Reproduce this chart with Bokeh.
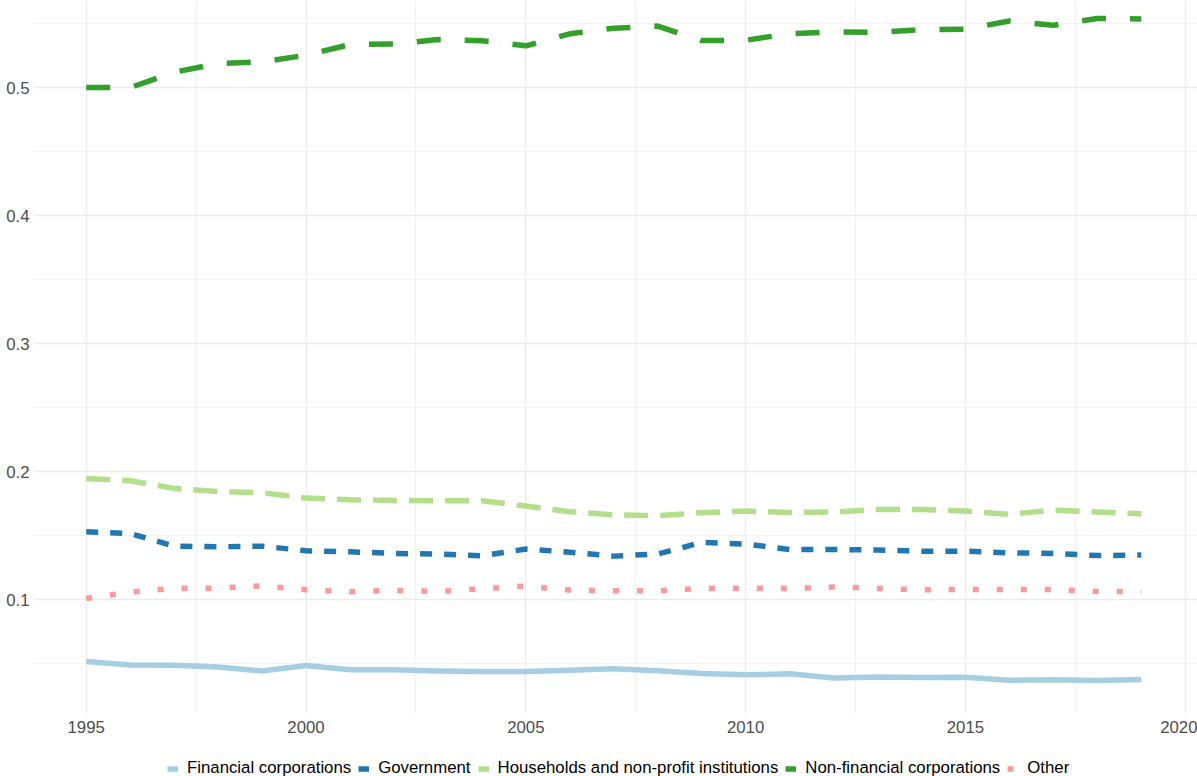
from bokeh.plotting import figure
from bokeh.models import Range1d, FixedTicker, Legend, LegendItem
from bokeh.layouts import column
from bokeh.embed import file_html
from bokeh.resources import INLINE

years = list(range(1995, 2020))

financial = [0.0518, 0.0491, 0.0489, 0.0475, 0.0444, 0.0487, 0.0454, 0.0453, 0.0443, 0.0440,
             0.0440, 0.0450, 0.0462, 0.0445, 0.0425, 0.0414, 0.0422, 0.0389, 0.0398, 0.0393,
             0.0395, 0.0372, 0.0375, 0.0370, 0.0378]
government = [0.1531, 0.1518, 0.1419, 0.1414, 0.1419, 0.1383, 0.1375, 0.1362, 0.1357, 0.1344,
              0.1396, 0.1372, 0.1341, 0.1357, 0.1448, 0.1435, 0.1393, 0.1393, 0.1388, 0.1380,
              0.1380, 0.1367, 0.1362, 0.1345, 0.1350]
households = [0.1948, 0.1930, 0.1870, 0.1846, 0.1836, 0.1794, 0.1781, 0.1776, 0.1773, 0.1773,
              0.1732, 0.1688, 0.1664, 0.1656, 0.1680, 0.1693, 0.1682, 0.1685, 0.1706, 0.1705,
              0.1693, 0.1667, 0.1700, 0.1685, 0.1672]
nonfinancial = [0.5000, 0.5000, 0.5120, 0.5188, 0.5200, 0.5253, 0.5336, 0.5340, 0.5375, 0.5365,
                0.5326, 0.5420, 0.5464, 0.5480, 0.5367, 0.5370, 0.5420, 0.5435, 0.5430, 0.5453,
                0.5456, 0.5520, 0.5487, 0.5540, 0.5536]
other = [0.1010, 0.1060, 0.1089, 0.1091, 0.1109, 0.1078, 0.1063, 0.1073, 0.1065, 0.1086,
         0.1107, 0.1076, 0.1070, 0.1070, 0.1089, 0.1091, 0.1089, 0.1100, 0.1089, 0.1078,
         0.1081, 0.1081, 0.1081, 0.1065, 0.1063]

series_names = ["Financial corporations", "Government", "Households and non-profit institutions",
                "Non-financial corporations", "Other"]
series_values = [financial, government, households, nonfinancial, other]
series_colors = ["#a6cee3", "#1f78b4", "#b2df8a", "#33a02c", "#fb9a99"]
series_dashes = ["solid", "12 12", "24 12", "24 24", "6 18"]

x_ticks = [1995, 2000, 2005, 2010, 2015, 2020]
x_minor = [1997.5, 2002.5, 2007.5, 2012.5, 2017.5]
y_ticks = [0.1, 0.2, 0.3, 0.4, 0.5]
y_minor = [0.05, 0.15, 0.25, 0.35, 0.45, 0.55]

FONT = "Liberation Sans"
LINE_W = 5.5

p = figure(width=1197, height=745, output_backend="svg", toolbar_location=None,
           x_range=Range1d(1993.801, 2020.279), y_range=Range1d(0.0112, 0.568),
           min_border_left=33, min_border_right=0, min_border_top=0, min_border_bottom=32)
p.outline_line_color = None
p.background_fill_color = "white"
p.border_fill_color = "white"

p.xaxis.ticker = FixedTicker(ticks=x_ticks, minor_ticks=x_minor)
p.yaxis.ticker = FixedTicker(ticks=y_ticks, minor_ticks=y_minor)
p.xaxis.major_label_overrides = {t: str(t) for t in x_ticks}

for ax in (p.xaxis, p.yaxis):
    ax.axis_line_color = None
    ax.major_tick_line_color = None
    ax.minor_tick_line_color = None
    ax.major_tick_out = 0
    ax.major_tick_in = 0
    ax.minor_tick_out = 0
    ax.minor_tick_in = 0
    ax.major_label_text_font = FONT
    ax.major_label_text_font_size = "16.8px"
    ax.major_label_text_color = "#4d4d4d"
p.yaxis.major_label_standoff = 4
p.xaxis.major_label_standoff = 7

for g in (p.xgrid, p.ygrid):
    g.grid_line_color = "#ebebeb"
    g.grid_line_width = 1.3
    g.minor_grid_line_color = "#f2f2f2"
    g.minor_grid_line_width = 1.0

for vals, col, dash in zip(series_values, series_colors, series_dashes):
    p.line(years, vals, line_color=col, line_width=LINE_W, line_dash=dash, line_cap="butt",
           line_join="round")

# legend strip below the chart (its renderers lie outside its visible range)
lg = figure(width=1197, height=31, output_backend="svg", toolbar_location=None,
            x_range=Range1d(0, 1), y_range=Range1d(0, 1),
            x_axis_location=None, y_axis_location=None,
            min_border_left=0, min_border_right=0, min_border_top=0, min_border_bottom=0)
lg.outline_line_color = None
lg.xgrid.visible = False
lg.ygrid.visible = False
lg.background_fill_color = "white"
lg.border_fill_color = "white"

items = []
for name, vals, col, dash in zip(series_names, series_values, series_colors, series_dashes):
    r = lg.line(years, vals, line_color=col, line_width=LINE_W, line_dash=dash, line_cap="butt")
    items.append(LegendItem(label=name, renderers=[r]))

legend = Legend(items=items, orientation="horizontal", location=(134, -2),
                glyph_width=11, glyph_height=17, label_standoff=9, spacing=7,
                padding=0, margin=0, border_line_color=None, background_fill_alpha=0,
                label_text_font=FONT, label_text_font_size="16.8px", label_text_color="black")
lg.add_layout(legend, "center")

layout = column(p, lg, spacing=0)
open("out.html", "w").write(file_html(layout, INLINE))
